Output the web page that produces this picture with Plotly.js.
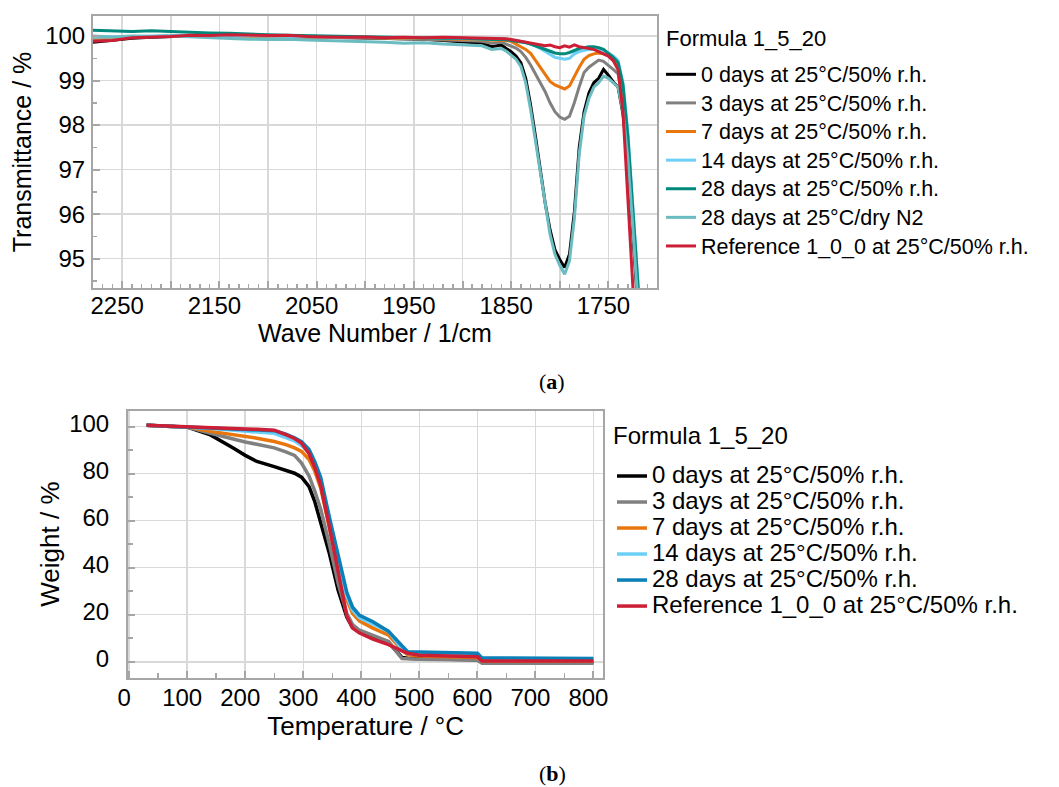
<!DOCTYPE html>
<html>
<head>
<meta charset="utf-8">
<script src="https://cdn.plot.ly/plotly-3.0.1.min.js"></script>
<style>html,body{margin:0;padding:0;background:#fff;}#chart{width:1059px;height:787px;}</style>
</head>
<body>
<div id="chart"></div>
<script>
// ---------- (a) FTIR spectra ----------
var waveNumber = [2280,2260,2240,2220,2200,2180,2160,2140,2120,2100,
  2080,2060,2040,2020,2000,1980,1960,1940,1920,1900,
  1880,1870,1860,1855,1850,1845,1840,1835,1830,1825,
  1820,1815,1810,1805,1800,1795,1790,1785,1780,1775,
  1770,1765,1760,1755,1750,1745,1740,1735,1730,1725,
  1720,1715];
var waveTickVals = [2250,2200,2150,2100,2050,2000,1950,1900,1850,1800,1750];
var waveTickText = ['2250','','2150','','2050','','1950','','1850','','1750'];

var ir0d = [99.86,99.90,99.95,99.97,99.99,100.01,100.02,100.01,100.02,100.00,
  99.99,99.98,99.97,99.96,99.96,99.95,99.94,99.93,99.90,99.87,
  99.84,99.76,99.80,99.72,99.65,99.55,99.40,99.05,98.45,97.75,
  97.00,96.25,95.65,95.20,94.98,94.80,95.10,96.05,97.50,98.30,
  98.72,98.95,99.05,99.25,99.12,98.97,98.85,98.25,97.20,95.65,
  94.05,92.40];
var ir3d = [99.93,99.95,99.97,99.98,100.00,100.01,100.00,100.00,100.00,99.99,
  99.99,99.98,99.97,99.96,99.96,99.95,99.94,99.93,99.91,99.90,
  99.88,99.84,99.86,99.82,99.78,99.73,99.65,99.52,99.35,99.15,
  98.95,98.75,98.50,98.30,98.18,98.13,98.20,98.50,98.86,99.18,
  99.30,99.38,99.46,99.43,99.35,99.25,99.15,98.55,97.40,95.80,
  94.20,92.60];
var ir7d = [99.95,99.96,99.97,99.98,100.00,100.01,100.00,100.01,100.00,99.99,
  99.99,99.98,99.97,99.97,99.96,99.96,99.95,99.95,99.94,99.93,
  99.92,99.90,99.91,99.90,99.88,99.82,99.76,99.70,99.61,99.45,
  99.28,99.12,98.98,98.90,98.85,98.81,98.88,99.10,99.30,99.48,
  99.56,99.60,99.62,99.60,99.56,99.45,99.30,98.70,97.55,95.95,
  94.30,92.70];
var ir14d = [99.97,99.98,100.00,100.01,100.02,100.02,100.01,100.02,100.01,100.00,
  100.00,99.99,99.98,99.98,99.97,99.97,99.96,99.96,99.95,99.95,
  99.94,99.93,99.94,99.93,99.92,99.90,99.88,99.86,99.82,99.78,
  99.72,99.65,99.58,99.52,99.50,99.48,99.50,99.60,99.65,99.68,
  99.70,99.70,99.70,99.68,99.62,99.55,99.45,98.95,97.85,96.30,
  94.60,92.90];
var ir28d = [100.13,100.12,100.10,100.12,100.10,100.08,100.07,100.06,100.04,100.03,
  100.02,100.01,100.00,99.99,99.98,99.97,99.97,99.96,99.95,99.95,
  99.93,99.92,99.93,99.92,99.90,99.88,99.87,99.85,99.82,99.78,
  99.74,99.70,99.66,99.62,99.60,99.60,99.63,99.68,99.72,99.74,
  99.76,99.76,99.74,99.70,99.62,99.52,99.40,98.90,97.75,96.20,
  94.55,92.85];
var ir28dDry = [100.00,99.98,100.00,99.99,100.00,99.98,99.97,99.95,99.93,99.92,
  99.93,99.91,99.90,99.88,99.88,99.86,99.84,99.85,99.82,99.80,
  99.78,99.70,99.72,99.66,99.58,99.48,99.32,98.95,98.35,97.65,
  96.90,96.15,95.55,95.10,94.85,94.65,94.95,95.90,97.35,98.20,
  98.60,98.85,98.95,99.10,99.05,98.95,98.85,98.30,97.25,95.75,
  94.15,92.50];
var irRef = [99.88,99.90,99.96,99.97,99.99,100.02,100.01,100.03,100.02,100.01,
  100.02,99.99,99.98,99.97,99.98,99.96,99.97,99.96,99.97,99.96,
  99.95,99.95,99.93,99.94,99.92,99.90,99.88,99.87,99.85,99.83,
  99.80,99.78,99.80,99.76,99.74,99.78,99.75,99.80,99.76,99.74,
  99.72,99.70,99.65,99.60,99.55,99.45,99.24,98.30,96.30,94.20,
  92.50,91.00];

// ---------- (b) TGA ----------
var tempC = [30,100,140,160,180,200,220,250,270,285,297,310,320,330,345,360,375,385,397,420,447,470,480,500,600,608,800];
var tga0d  = [100.6,99.8,96.5,93.8,90.8,87.8,85.2,83.0,81.5,80.2,78.5,74.5,68.0,59.5,46.0,30.5,19.0,14.5,12.9,10.8,8.3,1.8,1.5,1.3,0.8,-0.3,-0.3];
var tga3d  = [100.6,99.8,97.2,95.9,94.7,93.5,92.5,91.0,89.3,87.8,84.5,79.0,72.5,65.0,50.0,33.5,20.5,15.8,13.4,11.2,8.6,1.4,1.2,1.1,0.7,-0.6,-0.6];
var tga7d  = [100.6,99.8,98.0,97.3,96.6,95.8,95.1,93.7,92.4,91.0,89.5,86.0,81.0,74.0,57.5,40.0,26.5,20.5,17.3,14.3,11.3,5.0,3.0,2.4,1.8,0.3,0.3];
var tga14d = [100.6,99.9,99.2,98.9,98.6,98.3,98.0,97.2,95.4,94.0,92.0,89.0,83.5,76.0,59.5,42.5,28.0,22.0,18.7,16.2,13.0,5.3,3.5,3.2,2.8,1.0,1.0];
var tga28d = [100.6,99.9,99.5,99.3,99.1,98.9,98.7,98.3,96.8,95.3,93.6,90.3,85.0,78.5,61.5,45.0,29.5,23.2,19.7,17.0,12.9,6.8,4.3,4.1,3.6,1.6,1.4];
var tgaRef = [100.6,99.8,99.5,99.3,99.2,99.0,98.9,98.5,96.6,95.0,93.0,88.5,82.5,75.0,57.5,37.5,19.5,14.3,12.2,9.6,7.3,4.6,3.6,2.8,2.1,0.3,0.3];

var legendTitle = 'Formula 1_5_20';
var namesA = ['0 days at 25°C/50% r.h.','3 days at 25°C/50% r.h.','7 days at 25°C/50% r.h.',
  '14 days at 25°C/50% r.h.','28 days at 25°C/50% r.h.','28 days at 25°C/dry N2','Reference 1_0_0 at 25°C/50% r.h.'];
var namesB = ['0 days at 25°C/50% r.h.','3 days at 25°C/50% r.h.','7 days at 25°C/50% r.h.',
  '14 days at 25°C/50% r.h.','28 days at 25°C/50% r.h.','Reference 1_0_0 at 25°C/50% r.h.'];

var FONT = 'Liberation Sans, Arial, sans-serif';
var colA = ['#000000','#808080','#E8760C','#6DCFF6','#00897B','#6BBCC0','#CC1F36'];
var colB = ['#000000','#808080','#E8760C','#6DCFF6','#0A7FB8','#CC1F36'];

var seriesA = [ir0d, ir3d, ir7d, ir14d, ir28d, ir28dDry, irRef];
var seriesB = [tga0d, tga3d, tga7d, tga14d, tga28d, tgaRef];

var traces = [];
seriesA.forEach(function(s, i){
  traces.push({type:'scatter', mode:'lines', x:waveNumber, y:s, xaxis:'x', yaxis:'y',
    name:'<span style="font-size:21.5px">'+namesA[i]+'</span>', legend:'legend',
    line:{color:colA[i], width:3}});
});
seriesB.forEach(function(s, i){
  traces.push({type:'scatter', mode:'lines', x:tempC, y:s, xaxis:'x2', yaxis:'y2',
    name:'<span style="font-size:24px">'+namesB[i]+'</span>', legend:'legend2',
    line:{color:colB[i], width:3.5}});
});

function axisBase(){
  return {
    showline:true, linecolor:'#a6a6a6', linewidth:2, mirror:true, zeroline:false,
    showgrid:true, gridcolor:'#d9d9d9', gridwidth:1.5,
    ticks:'inside', ticklen:7, tickwidth:2, tickcolor:'#a6a6a6',
    tickfont:{family:FONT, size:24, color:'#000'}, automargin:false
  };
}
var W = 1059, H = 787;
var xa = axisBase(), ya = axisBase(), xb = axisBase(), yb = axisBase();

Object.assign(xa, {domain:[93/W, 657/W], anchor:'y', range:[2280,1700], tickmode:'array',
  tickvals:waveTickVals, ticktext:waveTickText, ticklabelstandoff:-5, ticklabelshift:5,
  minor:{tickmode:'linear', tick0:1700, dtick:10, ticks:'inside', ticklen:4, tickwidth:1.5, tickcolor:'#a6a6a6', showgrid:false},
  title:{text:'Wave Number / 1/cm', font:{family:FONT, size:25, color:'#000'}, standoff:3}});
Object.assign(ya, {domain:[1-288/H, 1-16/H], anchor:'x', range:[94.34,100.45], tickmode:'linear', tick0:95, dtick:1,
  ticklabelstandoff:1,
  minor:{tickmode:'linear', tick0:94.5, dtick:0.5, ticks:'inside', ticklen:4, tickwidth:1.5, tickcolor:'#a6a6a6', showgrid:false},
  title:{text:'Transmittance / %', font:{family:FONT, size:25, color:'#000'}, standoff:6}});
Object.assign(xb, {domain:[128/W, 603.3/W], anchor:'y2', range:[-2,817], tickmode:'linear', tick0:0, dtick:100,
  ticklabelstandoff:-2, ticklabelshift:-5,
  minor:{tickmode:'linear', tick0:0, dtick:50, ticks:'inside', ticklen:5, tickwidth:1.5, tickcolor:'#a6a6a6', showgrid:false},
  title:{text:'Temperature / °C', font:{family:FONT, size:26, color:'#000'}, standoff:6}});
Object.assign(yb, {domain:[1-677.5/H, 1-410.7/H], anchor:'x2', range:[-6.7,106.8], tickmode:'linear', tick0:0, dtick:20,
  ticklabelstandoff:12, ticklabelshift:-3,
  minor:{tickmode:'linear', tick0:0, dtick:10, ticks:'inside', ticklen:5, tickwidth:1.5, tickcolor:'#a6a6a6', showgrid:false},
  title:{text:'Weight / %', font:{family:FONT, size:26, color:'#000'}, standoff:2}});

var layout = {
  width:W, height:H, margin:{l:0, r:0, t:0, b:0, pad:0},
  paper_bgcolor:'#ffffff', plot_bgcolor:'#ffffff', showlegend:true,
  font:{family:FONT, color:'#000'},
  xaxis:xa, yaxis:ya, xaxis2:xb, yaxis2:yb,
  legend:{x:661/W, xanchor:'left', y:1-55/H, yanchor:'top', bgcolor:'rgba(0,0,0,0)', borderwidth:0,
    font:{family:FONT, size:19.7, color:'#000'}, tracegroupgap:0, itemwidth:30},
  legend2:{x:612/W, xanchor:'left', y:1-458/H, yanchor:'top', bgcolor:'rgba(0,0,0,0)', borderwidth:0,
    font:{family:FONT, size:17.7, color:'#000'}, tracegroupgap:0, itemwidth:30},
  annotations:[
    {xref:'paper', yref:'paper', x:664/W, y:1-38/H, xanchor:'left', yanchor:'middle', showarrow:false,
     text:legendTitle, font:{family:FONT, size:22, color:'#000'}},
    {xref:'paper', yref:'paper', x:611/W, y:1-435/H, xanchor:'left', yanchor:'middle', showarrow:false,
     text:legendTitle, font:{family:FONT, size:24, color:'#000'}},
    {xref:'paper', yref:'paper', x:552/W, y:1-381/H, xanchor:'center', yanchor:'middle', showarrow:false,
     text:'(<b>a</b>)', font:{family:'Liberation Serif, Times New Roman, serif', size:22, color:'#000'}},
    {xref:'paper', yref:'paper', x:552/W, y:1-773/H, xanchor:'center', yanchor:'middle', showarrow:false,
     text:'(<b>b</b>)', font:{family:'Liberation Serif, Times New Roman, serif', size:22, color:'#000'}}
  ]
};

Plotly.newPlot('chart', traces, layout, {displayModeBar:false, staticPlot:true});
</script>
</body>
</html>
